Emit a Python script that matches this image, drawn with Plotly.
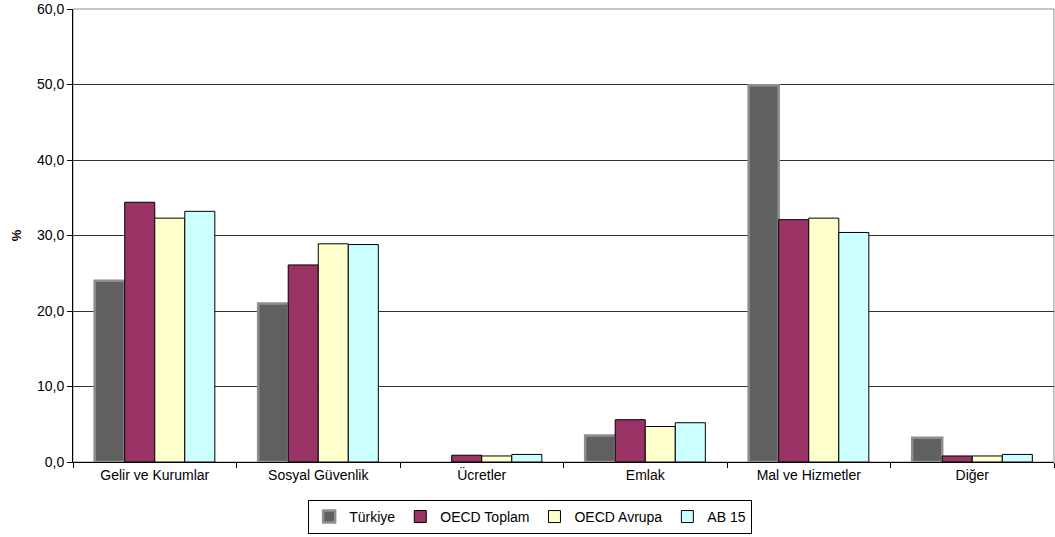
import plotly.graph_objects as go

# Tax revenue structure by source (% of total)
categories = ["Gelir ve Kurumlar", "Sosyal Güvenlik", "Ücretler", "Emlak",
              "Mal ve Hizmetler", "Diğer"]
turkiye = [24.0, 21.0, 0.0, 3.5, 49.9, 3.2]
oecd_toplam = [34.4, 26.1, 0.9, 5.6, 32.1, 0.8]
oecd_avrupa = [32.3, 28.9, 0.8, 4.7, 32.3, 0.8]
ab15 = [33.2, 28.8, 1.0, 5.2, 30.4, 1.0]
y_ticks = [0, 10, 20, 30, 40, 50, 60]

FONT = "Liberation Sans, Arial, sans-serif"

# no outline on empty (zero) bars
tr_line_w = [2.5 if v > 0 else 0 for v in turkiye]

fig = go.Figure()
fig.add_trace(go.Bar(
    name="Türkiye", x=categories, y=turkiye,
    marker=dict(color="#606060", line=dict(color="#8e8e8e", width=tr_line_w)),
))
fig.add_trace(go.Bar(
    name="OECD Toplam", x=categories, y=oecd_toplam,
    marker=dict(color="#993366", line=dict(color="#000000", width=1)),
))
fig.add_trace(go.Bar(
    name="OECD Avrupa", x=categories, y=oecd_avrupa,
    marker=dict(color="#FFFFCC", line=dict(color="#000000", width=1)),
))
fig.add_trace(go.Bar(
    name="AB 15", x=categories, y=ab15,
    marker=dict(color="#CCFFFF", line=dict(color="#000000", width=1)),
))

fig.update_layout(
    width=1055, height=537,
    margin=dict(l=73, r=1, t=9, b=75),
    paper_bgcolor="white", plot_bgcolor="white",
    barmode="group", bargap=0.265, bargroupgap=0,
    separators=",.",
    font=dict(family=FONT, size=13, color="black"),
    showlegend=True,
    legend=dict(
        orientation="h", x=0.466, xanchor="center",
        yref="container", y=0.069, yanchor="top",
        bordercolor="black", borderwidth=1, bgcolor="white",
        font=dict(family=FONT, size=14, color="black"),
        itemwidth=30, tracegroupgap=0,
    ),
    shapes=[dict(type="rect", xref="paper", yref="paper", x0=0, x1=1, y0=0, y1=1,
                 line=dict(color="#8c8c8c", width=1), layer="below")],
)

fig.update_xaxes(
    type="category",
    showline=True, linecolor="black", linewidth=1,
    ticks="outside", tickson="boundaries", ticklen=5, tickcolor="black",
    tickfont=dict(family=FONT, size=14, color="black"),
    showgrid=False, zeroline=False,
)
fig.update_yaxes(
    range=[0, 60], tickvals=y_ticks, tickformat=".1f",
    showline=True, linecolor="black", linewidth=1,
    ticks="outside", ticklen=5, tickcolor="black",
    tickfont=dict(family=FONT, size=14, color="black"),
    showgrid=True, gridcolor="#333333", gridwidth=1,
    zeroline=False,
    title=dict(text="<b>%</b>", font=dict(family=FONT, size=13, color="black"),
               standoff=12),
)

fig.write_html("out.html")
